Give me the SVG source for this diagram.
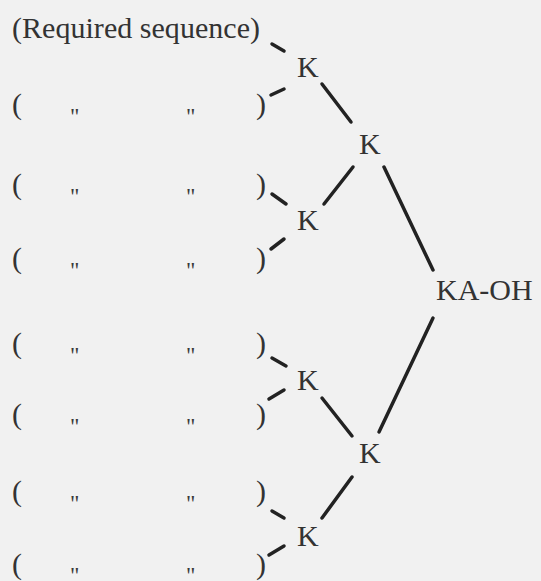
<svg xmlns="http://www.w3.org/2000/svg" width="541" height="581" viewBox="0 0 541 581">
  <style>
    .t { font-family: "Liberation Serif", "Times New Roman", serif; font-size: 30px; fill: #333; }
    .q { font-family: "Liberation Serif", "Times New Roman", serif; font-size: 23px; fill: #3a3a3a; }
    .e { stroke: #222; stroke-width: 3.5; stroke-linecap: round; fill: none; }
  </style>
  <rect width="541" height="581" fill="#f1f1f1"/>

  <!-- sequence rows: bracket, ditto marks, bracket -->
  <g id="seq1"><text class="t" x="12" y="38" textLength="248" lengthAdjust="spacing">(Required sequence)</text></g>
  <g id="seq2"><text class="t" x="12" y="114">(</text><text class="q" x="70" y="124">"</text><text class="q" x="186" y="124">"</text><text class="t" x="256" y="114">)</text></g>
  <g id="seq3"><text class="t" x="12" y="194">(</text><text class="q" x="70" y="204">"</text><text class="q" x="186" y="204">"</text><text class="t" x="256" y="194">)</text></g>
  <g id="seq4"><text class="t" x="12" y="268">(</text><text class="q" x="70" y="278">"</text><text class="q" x="186" y="278">"</text><text class="t" x="256" y="268">)</text></g>
  <g id="seq5"><text class="t" x="12" y="353">(</text><text class="q" x="70" y="363">"</text><text class="q" x="186" y="363">"</text><text class="t" x="256" y="353">)</text></g>
  <g id="seq6"><text class="t" x="12" y="424">(</text><text class="q" x="70" y="434">"</text><text class="q" x="186" y="434">"</text><text class="t" x="256" y="424">)</text></g>
  <g id="seq7"><text class="t" x="12" y="501">(</text><text class="q" x="70" y="511">"</text><text class="q" x="186" y="511">"</text><text class="t" x="256" y="501">)</text></g>
  <g id="seq8"><text class="t" x="12" y="574">(</text><text class="q" x="70" y="583">"</text><text class="q" x="186" y="583">"</text><text class="t" x="256" y="574">)</text></g>

  <!-- K nodes -->
  <g id="k1"><text class="t" x="297" y="77">K</text></g>
  <g id="k2"><text class="t" x="359" y="154">K</text></g>
  <g id="k3"><text class="t" x="297" y="230">K</text></g>
  <g id="kaoh"><text class="t" x="436" y="300">KA-OH</text></g>
  <g id="k4"><text class="t" x="297" y="390">K</text></g>
  <g id="k5"><text class="t" x="359" y="463">K</text></g>
  <g id="k6"><text class="t" x="297" y="546">K</text></g>

  <!-- connectors -->
  <g id="edges" class="e">
    <line x1="272" y1="44" x2="284" y2="51"/>
    <line x1="271" y1="95" x2="284" y2="89"/>
    <line x1="322" y1="84" x2="351" y2="122"/>
    <line x1="353" y1="167" x2="324" y2="204"/>
    <line x1="384" y1="167" x2="433" y2="270"/>
    <line x1="272" y1="194" x2="286" y2="204"/>
    <line x1="271" y1="249" x2="284" y2="239"/>
    <line x1="433" y1="318" x2="379" y2="432"/>
    <line x1="272" y1="358" x2="286" y2="366"/>
    <line x1="269" y1="399" x2="284" y2="390"/>
    <line x1="322" y1="398" x2="352" y2="436"/>
    <line x1="352" y1="477" x2="322" y2="518"/>
    <line x1="272" y1="511" x2="284" y2="518"/>
    <line x1="269" y1="555" x2="284" y2="546"/>
  </g>
</svg>
